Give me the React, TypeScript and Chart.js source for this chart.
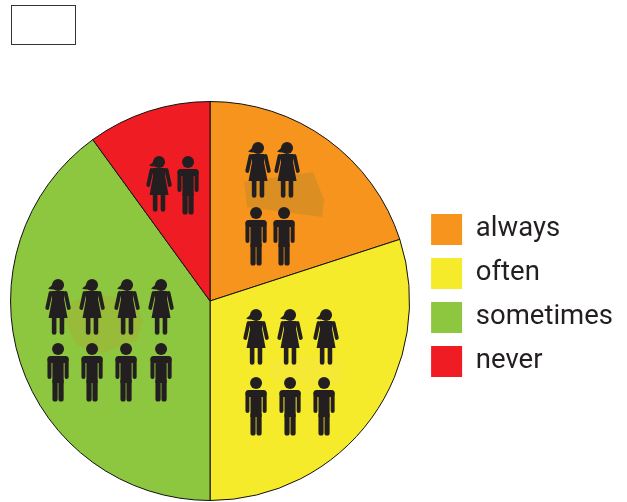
import React, { useEffect, useRef } from "react";
import { Chart, registerables } from "chart.js";

Chart.register(...registerables);

const categories = ["always", "often", "sometimes", "never"];
const shares = [20, 30, 40, 10];
const sliceColors = ["#F7941D", "#F5EB2A", "#8DC63F", "#F01C24"];
const INK = "#231F20";

// Pictogram placement: offsets of each head from the pie's centre.
const womenHeads = [
  [48, -153], [77, -153],
  [46, 14], [80, 14], [116, 14],
  [-152, -16], [-118, -16], [-83, -16], [-49, -16],
  [-51, -139],
];
const menHeads = [
  [46, -88], [74, -88],
  [46, 82], [80, 82], [114, 82],
  [-152, 48], [-118, 48], [-84, 48], [-49, 48],
  [-22, -139],
];

const stains: { color: string; points: number[][] }[] = [
  { color: "#DB8F22", points: [[34, -119], [103, -129], [114, -101], [112, -84], [37, -94]] },
  { color: "#98BB3A", points: [[-145, 20], [-137, 0], [-107, -6], [-74, 2], [-67, 20], [-74, 40], [-107, 52], [-133, 44]] },
  { color: "#F6E935", points: [[60, 60], [100, 55], [132, 62], [130, 82], [90, 86], [62, 80]] },
];

function limb(ctx: CanvasRenderingContext2D, x0: number, y0: number, x1: number, y1: number, w: number) {
  ctx.lineWidth = w;
  ctx.beginPath();
  ctx.moveTo(x0, y0);
  ctx.lineTo(x1, y1);
  ctx.stroke();
}

function drawWoman(ctx: CanvasRenderingContext2D, x: number, y: number) {
  ctx.save();
  ctx.translate(x, y);
  ctx.fillStyle = INK;
  ctx.strokeStyle = INK;
  ctx.lineCap = "round";
  ctx.beginPath();
  ctx.arc(0, 0, 6, 0, Math.PI * 2);
  ctx.fill();
  ctx.beginPath();
  ctx.moveTo(-4, -3);
  ctx.quadraticCurveTo(-7, 2, -10, 3.5);
  ctx.quadraticCurveTo(-6, 5, -2, 4);
  ctx.closePath();
  ctx.fill();
  ctx.beginPath();
  ctx.moveTo(-6.5, 6);
  ctx.lineTo(6.5, 6);
  ctx.lineTo(6, 14);
  ctx.lineTo(9.5, 33);
  ctx.lineTo(-9.5, 33);
  ctx.lineTo(-6, 14);
  ctx.closePath();
  ctx.fill();
  limb(ctx, -7.5, 8, -10.8, 23, 3.8);
  limb(ctx, 7.5, 8, 10.8, 23, 3.8);
  limb(ctx, -3.9, 33, -3.9, 47.5, 4.6);
  limb(ctx, 3.9, 33, 3.9, 47.5, 4.6);
  ctx.restore();
}

function drawMan(ctx: CanvasRenderingContext2D, x: number, y: number) {
  ctx.save();
  ctx.translate(x, y);
  ctx.fillStyle = INK;
  ctx.strokeStyle = INK;
  ctx.lineCap = "round";
  ctx.beginPath();
  ctx.arc(0, 0, 6, 0, Math.PI * 2);
  ctx.fill();
  ctx.beginPath();
  ctx.roundRect(-10.5, 7, 21, 7, 3);
  ctx.fill();
  ctx.fillRect(-5.6, 8, 11.2, 26);
  limb(ctx, -8.6, 10, -8.6, 28, 4);
  limb(ctx, 8.6, 10, 8.6, 28, 4);
  limb(ctx, -3, 32, -3, 50, 5.2);
  limb(ctx, 3, 32, 3, 50, 5.2);
  ctx.restore();
}

const pictograms = {
  id: "pictograms",
  afterLayout(chart: Chart) {
    const legend = chart.legend as any;
    legend.top -= 5.5;
    legend.bottom -= 5.5;
  },
  afterDatasetsDraw(chart: Chart) {
    const ctx = chart.ctx;
    const arc = chart.getDatasetMeta(0).data[0] as any;
    const cx = arc.x;
    const cy = arc.y;
    ctx.save();
    stains.forEach((s) => {
      ctx.fillStyle = s.color;
      ctx.beginPath();
      s.points.forEach(([dx, dy], i) => (i ? ctx.lineTo(cx + dx, cy + dy) : ctx.moveTo(cx + dx, cy + dy)));
      ctx.closePath();
      ctx.fill();
    });
    womenHeads.forEach(([dx, dy]) => drawWoman(ctx, cx + dx, cy + dy));
    menHeads.forEach(([dx, dy]) => drawMan(ctx, cx + dx, cy + dy));
    ctx.strokeStyle = "#333333";
    ctx.lineWidth = 1;
    ctx.strokeRect(11.5, 5.5, 64, 39);
    ctx.restore();
  },
};

export default function App() {
  const ref = useRef<HTMLCanvasElement>(null);
  useEffect(() => {
    const chart = new Chart(ref.current!, {
      type: "pie",
      data: {
        labels: categories,
        datasets: [
          {
            data: shares,
            backgroundColor: sliceColors,
            borderColor: "#111111",
            borderWidth: 1,
          },
        ],
      },
      options: {
        animation: false,
        responsive: false,
        layout: { padding: { left: 2, right: 4, top: 101, bottom: 1 } },
        plugins: {
          tooltip: { enabled: false },
          legend: {
            position: "right",
            labels: {
              boxWidth: 31,
              boxHeight: 31,
              padding: 13,
              color: INK,
              font: { family: "Roboto", size: 27.5 },
              generateLabels(c: Chart) {
                return (Chart.overrides.pie.plugins.legend.labels as any)
                  .generateLabels(c)
                  .map((l: any) => ({ ...l, lineWidth: 0, strokeStyle: "transparent" }));
              },
            },
          },
        },
      },
      plugins: [pictograms],
    });
    return () => chart.destroy();
  }, []);
  return (
    <canvas
      ref={ref}
      width={627}
      height={502}
      style={{ position: "fixed", left: 0, top: 0, width: 627, height: 502 }}
    />
  );
}
